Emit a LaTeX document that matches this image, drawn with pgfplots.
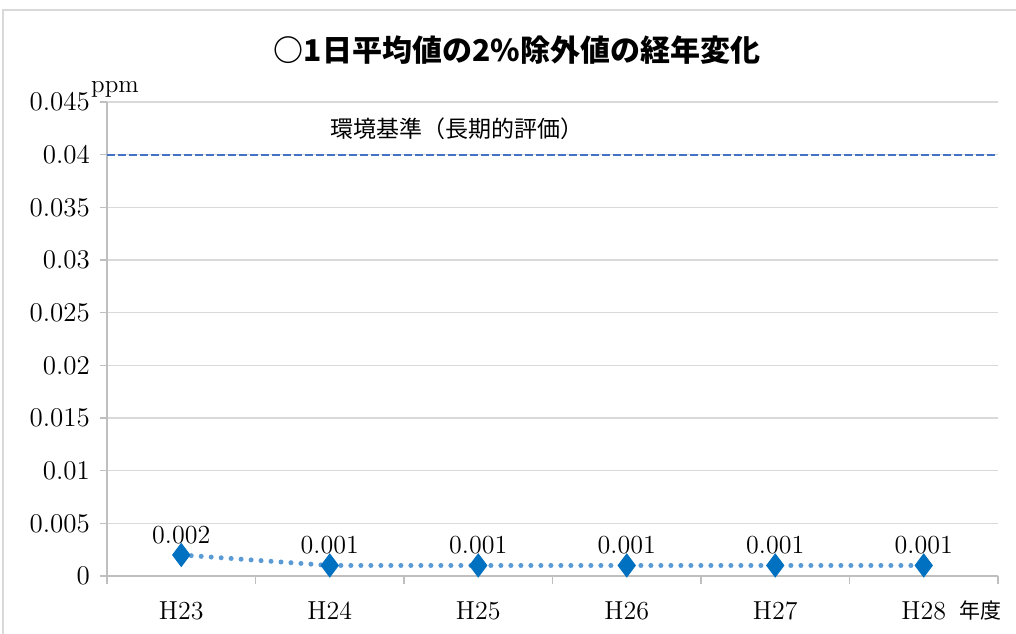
\documentclass[border=0pt]{standalone}
\usepackage{fontspec}
\usepackage{pgfplots}
\pgfplotsset{compat=1.18}
\newfontfamily\cjk{Noto Sans CJK JP}
\definecolor{mk}{HTML}{0070C0}
\definecolor{lineblue}{HTML}{5B9BD5}
\definecolor{refblue}{HTML}{4472C4}
\definecolor{gridgray}{HTML}{D9D9D9}
\definecolor{axgray}{HTML}{BFBFBF}
\begin{document}
\begin{tikzpicture}
\path[use as bounding box] (0pt,0pt) rectangle (508pt,316.5pt);
\draw[color=gridgray, line width=0.6pt] (1.5pt,-5pt) -- (1.5pt,311.5pt) -- (520pt,311.5pt);
\node[font=\cjk\bfseries\fontsize{15}{18}\selectfont] at (258.5pt,291.5pt) {○1日平均値の2\%除外値の経年変化};
\begin{axis}[
  at={(53.5pt,28.5pt)}, anchor=south west,
  scale only axis, width=445.5pt, height=237pt,
  xmin=-0.5, xmax=5.5, ymin=0, ymax=0.045,
  scaled y ticks=false,
  ytick={0,0.005,0.01,0.015,0.02,0.025,0.03,0.035,0.04,0.045},
  yticklabels={0,0.005,0.01,0.015,0.02,0.025,0.03,0.035,0.04,0.045},
  xtick={0,1,2,3,4,5},
  xticklabels={H23,H24,H25,H26,H27,H28},
  minor xtick={-0.5,0.5,1.5,2.5,3.5,4.5,5.5},
  major x tick style={draw=none},
  tick align=outside,
  major tick length=3.5pt, minor tick length=4pt,
  tick style={axgray, line width=0.6pt},
  axis x line*=bottom, axis y line*=left,
  axis line style={draw=axgray, line width=0.6pt},
  ymajorgrids, xmajorgrids=false, xminorgrids=false,
  grid style={gridgray, line width=0.6pt},
  ticklabel style={font=\fontsize{13}{15}\selectfont},
  yticklabel style={font=\fontsize{13.5}{15}\selectfont, xshift=-1.5pt},
  xticklabel style={yshift=-6pt},
  clip=false,
]
\addplot[color=refblue, line width=1pt, dash pattern=on 4pt off 1.5pt] coordinates {(-0.5,0.04) (5.5,0.04)};
\addplot[color=lineblue, line width=2.5pt, line cap=round, dash pattern=on 0pt off 5pt,
  mark=diamond*, mark size=5.7pt, mark options={solid, draw=mk, fill=mk, line width=0.5pt},
  nodes near coords, point meta=explicit symbolic,
  every node near coord/.append style={font=\fontsize{13}{15}\selectfont, text=black, yshift=2pt}]
  coordinates {(0,0.002) [0.002] (1,0.001) [0.001] (2,0.001) [0.001] (3,0.001) [0.001] (4,0.001) [0.001] (5,0.001) [0.001]};
\node[font=\cjk\fontsize{11.5}{13}\selectfont] at (axis cs:1.86,0.04244) {環境基準（長期的評価）};
\node[font=\fontsize{12.5}{14}\selectfont] at (rel axis cs:0.009,1.027) {ppm};
\node[font=\cjk\fontsize{10.5}{12}\selectfont] at (rel axis cs:0.98,-0.072) {年度};
\end{axis}
\end{tikzpicture}
\end{document}
